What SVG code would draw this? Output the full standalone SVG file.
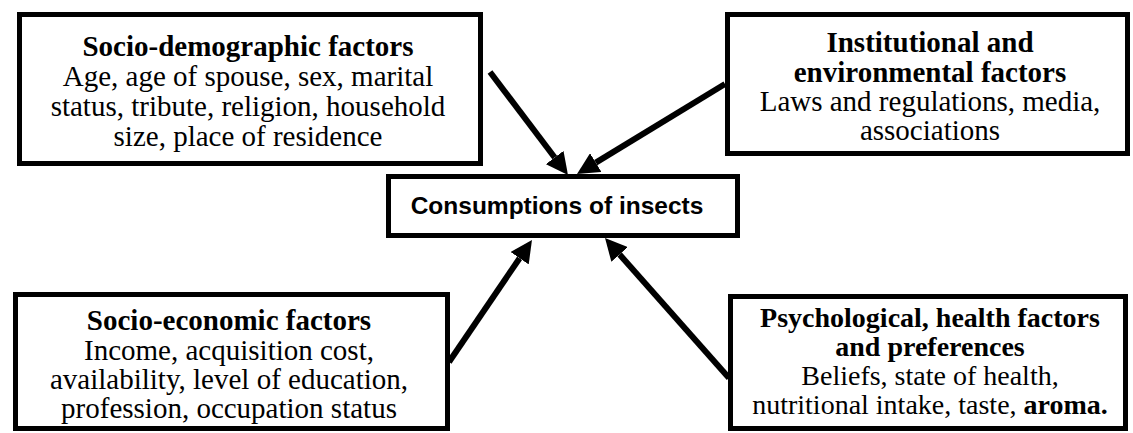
<svg xmlns="http://www.w3.org/2000/svg" width="1133" height="433" viewBox="0 0 1133 433">
<style>
.box{fill:#fff;stroke:#000;stroke-width:5}
.t{font-family:"Liberation Serif","Times New Roman",serif;font-size:29px;fill:#000;text-anchor:middle}
.s{font-size:28px}
.b{font-weight:bold}
.c{font-family:"Liberation Sans",Arial,sans-serif;font-size:24.5px;font-weight:bold;fill:#000;text-anchor:middle}
.arr{stroke:#000;stroke-width:6;fill:none;marker-end:url(#ah)}
</style>
<defs>
<marker id="ah" markerUnits="userSpaceOnUse" viewBox="0 0 22 22" markerWidth="22" markerHeight="22" refX="0" refY="11" orient="auto">
<path d="M0,0 L22,11 L0,22 Z" fill="#000"/>
</marker>
</defs>
<rect width="1133" height="433" fill="#fff"/>
<g id="connectors">
<line class="arr" x1="490" y1="72" x2="554.7" y2="157.5"/>
<line class="arr" x1="725" y1="84" x2="595.8" y2="162.6"/>
<line class="arr" x1="449" y1="362" x2="519.6" y2="258.2"/>
<line class="arr" x1="729" y1="378" x2="619.6" y2="254.5"/>
</g>
<g id="socio-demographic">
<rect class="box" x="19.5" y="14.5" width="461" height="149"/>
<text class="t b" x="248" y="56">Socio-demographic factors</text>
<text class="t" x="248" y="86">Age, age of spouse, sex, marital</text>
<text class="t" x="248" y="116">status, tribute, religion, household</text>
<text class="t" x="248" y="146">size, place of residence</text>
</g>
<g id="institutional">
<rect class="box" x="727.5" y="14.5" width="400" height="139"/>
<text class="t b" x="930" y="52">Institutional and</text>
<text class="t b" x="930" y="82">environmental factors</text>
<text class="t" x="930" y="111">Laws and regulations, media,</text>
<text class="t" x="930" y="140">associations</text>
</g>
<g id="consumption">
<rect class="box" x="388.5" y="176.5" width="349" height="59"/>
<text class="c" x="557" y="214">Consumptions of insects</text>
</g>
<g id="socio-economic">
<rect class="box" x="15.5" y="294.5" width="432" height="134"/>
<text class="t b" x="229" y="330">Socio-economic factors</text>
<text class="t" x="229" y="360">Income, acquisition cost,</text>
<text class="t" x="229" y="389">availability, level of education,</text>
<text class="t" x="229" y="418">profession, occupation status</text>
</g>
<g id="psychological">
<rect class="box" x="730.5" y="296.5" width="395" height="132"/>
<text class="t s b" x="930" y="327">Psychological, health factors</text>
<text class="t s b" x="930" y="356">and preferences</text>
<text class="t s" x="930" y="385">Beliefs, state of health,</text>
<text class="t s" x="930" y="414">nutritional intake, taste, <tspan class="b">aroma.</tspan></text>
</g>
</svg>
